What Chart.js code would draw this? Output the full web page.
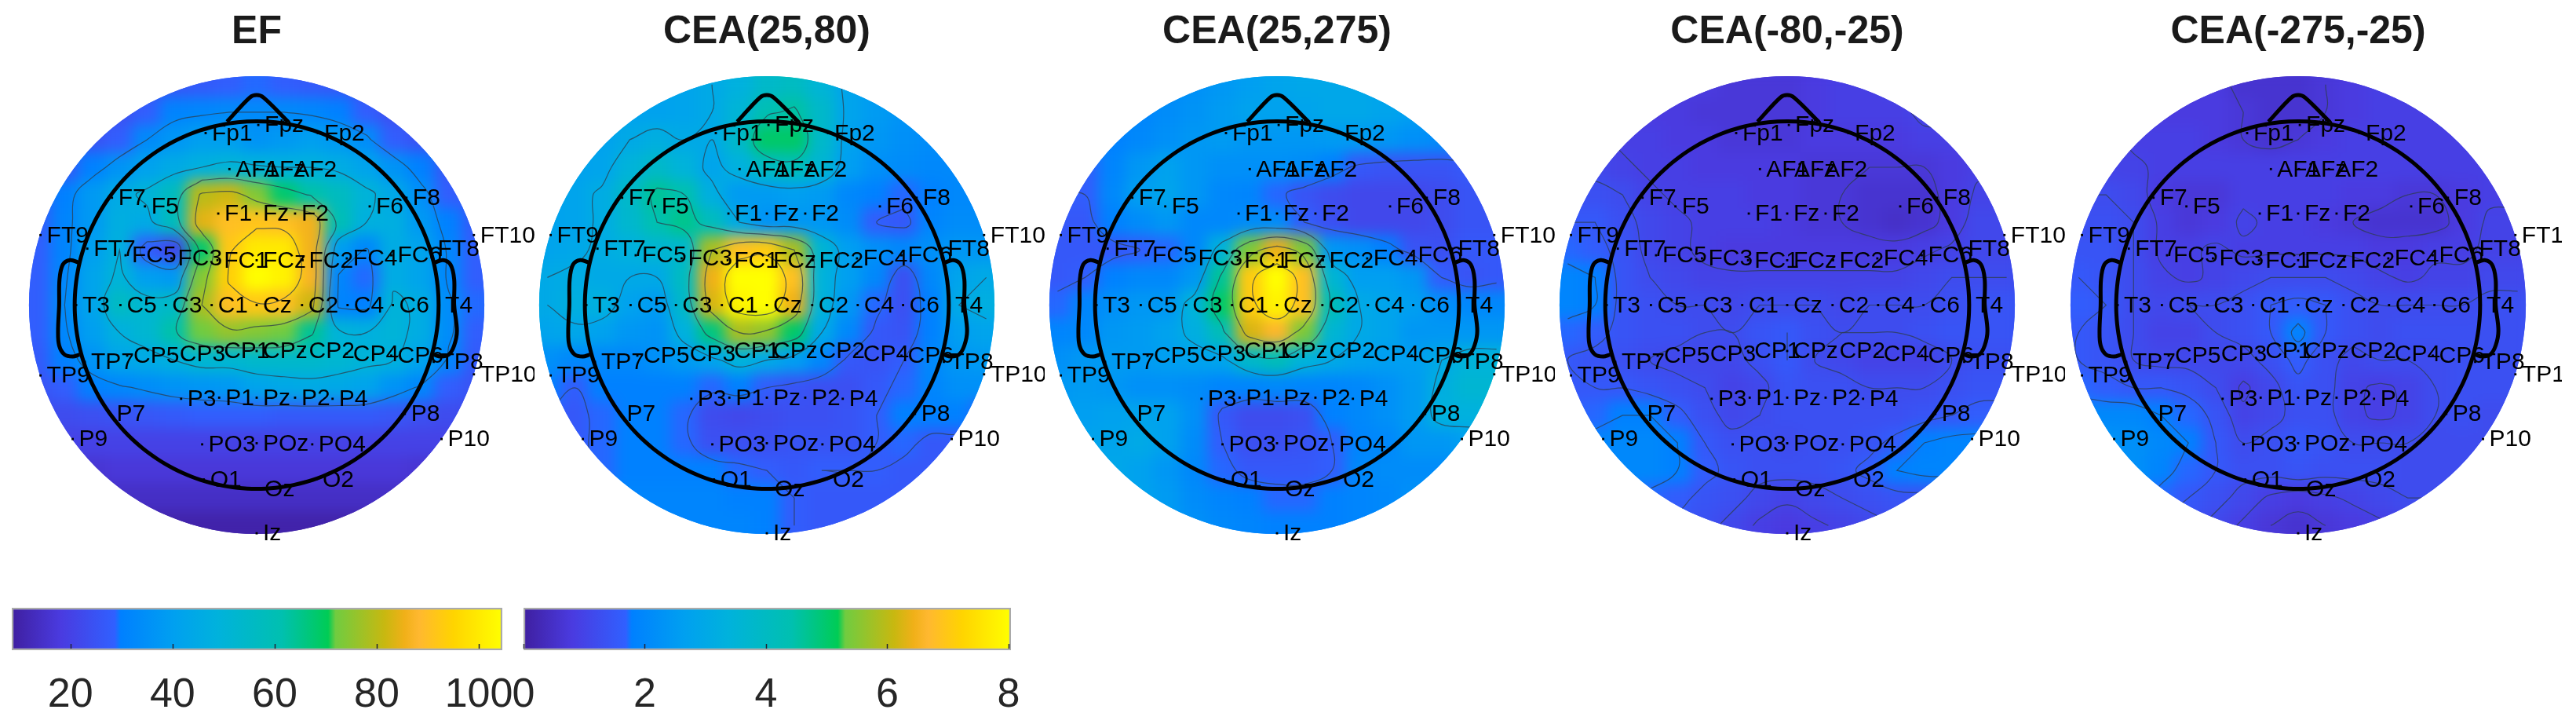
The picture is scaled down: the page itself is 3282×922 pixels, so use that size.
<!DOCTYPE html>
<html><head><meta charset="utf-8">
<script src="https://cdn.jsdelivr.net/npm/chart.js@4"></script>
<style>
html,body{margin:0;padding:0;background:#fff;width:3282px;height:922px;overflow:hidden}
.w{position:absolute;overflow:hidden;filter:blur(0.7px)}
canvas{display:block}
</style></head><body>
<script>
const panelTitles=['EF','CEA(25,80)','CEA(25,275)','CEA(-80,-25)','CEA(-275,-25)'];
const electrodeNames=['Fp1','Fpz','Fp2','AF1','AFz','AF2','F7','F5','F1','Fz','F2','F6','F8','FT9','FT7','FC5','FC3','FC1','FCz','FC2','FC4','FC6','FT8','FT10','T3','C5','C3','C1','Cz','C2','C4','C6','T4','TP7','CP5','CP3','CP1','CPz','CP2','CP4','CP6','TP8','TP9','TP10','P7','P3','P1','Pz','P2','P4','P8','P9','P10','PO3','POz','PO4','O1','Oz','O2','Iz'];
const electrodeX=[-27.9,.9,33.5,-14.9,.4,16.8,-79.1,-61.1,-21,0,21,61.8,81.9,-118.2,-92.6,-71.7,-46.6,-21.4,0,25.1,49.3,73.6,95.5,118.8,-98.7,-74.5,-49.7,-24.6,0,24.8,49.7,74.5,99.6,-94,-70.8,-45.6,-21.4,0,25.1,49.3,73.6,96.8,-118.2,118.8,-80,-41.3,-20.5,0,21,41.5,81,-100.6,101.1,-29.8,0,30.4,-28.9,.9,32.6,0];
const electrodeY=[93.6,98,93.6,74,74,74,58.4,53.7,49.8,49.8,49.8,53.7,58.4,38.1,30.7,27.1,25.4,24.4,24.4,24.4,25.4,27.1,30.7,38.1,0,0,0,0,0,0,0,0,0,-30.9,-27.5,-26.4,-25,-25,-25,-26.4,-27.5,-30.9,-38.3,-37.7,-59.2,-51,-50.4,-50.4,-50.4,-51,-59.2,-72.9,-72.9,-75.8,-75.2,-75.8,-94.9,-100.2,-94.9,-124.2];
const noseX=[-16.2,-3.7,0,3.7,17.2],noseY=[99.8,113,114.3,113,99.8];
const earLX=[-97,-102,-106,-107.8,-108,-108.6,-108,-105,-100.6,-96.8],earLY=[23,24.5,22,14,0,-14,-22,-27,-28,-27];
const earRX=[97,102,106,108,108,109.5,108,105,100.6,96.8],earRY=[23,24.5,22,14,0,-14,-22,-27,-28,-27];
const gridX=[-120,-105,-90,-75,-60,-45,-30,-15,0,15,30,45,60,75,90,105,120];
const gridY=[120,105,90,75,60,45,30,15,0,-15,-30,-45,-60,-75,-90,-105,-120];
const gridEF=[
[22,22,22,22,24,26,27,28,29,28,27,26,24,22,22,22,22],
[24,24,24,24,28,31,32,33,33,33,32,30,28,24,24,24,24],
[24,24,25,28,33,37,40,40,36,38,40,38,34,28,25,24,24],
[25,26,30,36,41,45,48,50,49,48,48,46,42,36,30,26,25],
[26,30,38,45,50,57,80,82,74,68,62,57,50,44,35,28,26],
[27,31,38,47,45,58,84,90,91,90,86,60,48,47,38,30,27],
[28,31,40,48,28,22,68,92,100,100,86,40,32,46,42,32,28],
[28,32,42,50,40,38,74,94,105,102,87,32,29,46,42,32,28],
[28,33,42,56,52,55,78,90,92,90,82,31,30,50,46,34,29],
[28,32,40,48,52,62,72,76,74,72,64,50,48,50,46,34,28],
[27,30,36,43,45,48,52,52,54,54,54,52,50,48,42,32,27],
[25,28,30,32,34,36,37,38,42,44,45,44,42,36,32,28,25],
[22,23,24,25,26,27,28,28,28,27,27,27,27,26,24,23,22],
[19,20,20,20,20,20,20,20,20,20,20,20,20,20,20,20,19],
[15,15,16,17,17,17,17,17,17,17,17,17,17,17,16,15,15],
[13,13,13,14,14,14,14,14,14,14,14,14,14,14,13,13,13],
[10,10,10,10,10,10,10,10,10,10,10,10,10,10,10,10,10]];
const gridCEA_25_80=[
[27,27,27,27,27,28,30,33,38,40,35,28,25,24,23,23,23],
[27,27,27,27,27,28,30,35,43,45,38,28,25,23,22,22,22],
[27,27,27,30,32,30,30,38,50,50,38,27,24,22,21,21,21],
[27,27,28,34,38,34,28,33,40,42,36,26,22,21,20,20,20],
[27,28,31,38,46,44,32,25,25,26,25,20,18,17,18,20,20],
[27,28,31,37,44,47,41,30,23,24,24,21,16,15,19,21,21],
[28,29,31,33,36,37,58,68,70,58,36,26,22,20,22,24,24],
[30,31,30,30,30,40,64,80,80,68,34,26,20,13,20,28,30],
[30,32,33,27,25,38,62,78,80,64,34,24,17,13,18,30,32],
[28,29,27,24,23,33,48,58,56,50,30,20,15,14,18,26,28],
[22,20,20,20,22,25,28,34,30,26,20,15,14,16,20,24,25],
[18,16,18,18,18,18,17,18,16,14,13,13,15,17,19,22,22],
[16,15,17,18,18,17,12,11,12,13,13,14,16,18,18,18,16],
[15,15,17,18,18,17,13,13,13,14,14,14,16,17,15,15,14],
[15,15,17,18,18,18,18,17,16,15,16,16,16,15,15,14,14],
[17,17,18,19,19,19,19,18,18,16,15,15,15,15,14,14,14],
[18,18,19,19,19,19,19,19,18,16,15,15,15,14,14,14,14]];
const gridCEA_25_275=[
[18,18,18,18,20,22,24,26,28,29,29,29,28,26,24,24,24],
[18,18,18,19,21,23,25,27,27,28,29,29,28,26,24,23,23],
[17,17,18,20,22,24,25,24,24,24,25,25,24,22,21,20,20],
[16,16,19,24,27,24,22,22,22,21,18,15,14,14,14,15,15],
[16,16,20,26,28,24,20,19,17,14,12,11,11,11,12,14,14],
[15,15,18,21,24,20,20,21,21,16,13,11,11,11,12,14,14],
[15,15,15,16,17,20,34,54,64,54,24,22,18,14,13,15,15],
[15,16,18,20,20,24,46,70,80,68,36,26,26,24,16,14,15],
[17,19,22,24,24,34,50,70,78,68,42,30,28,26,22,20,20],
[19,20,24,25,27,32,42,62,66,54,36,30,28,24,24,24,24],
[22,24,25,25,26,27,28,38,42,34,30,27,26,26,30,34,34],
[24,25,24,22,22,21,19,19,20,19,19,20,22,25,32,36,36],
[26,26,27,28,27,22,15,12,12,13,18,20,22,25,33,33,34],
[28,28,28,30,27,21,16,13,13,14,16,19,20,24,24,26,26],
[30,30,29,27,24,20,17,15,15,15,16,20,21,21,21,22,22],
[28,28,28,27,25,21,19,18,17,17,18,19,20,22,22,22,22],
[27,27,27,26,25,22,20,19,18,18,18,19,20,20,20,20,20]];
const gridCEA_m80_m25=[
[9,9,9,8,8,8,7,7,7,8,9,9,10,10,10,10,10],
[9,9,9,8,8,7,7,7,7,8,9,9,9,10,10,10,10],
[10,10,9,9,8,8,7,7,7,8,8,8,8,9,9,9,9],
[11,11,10,9,9,8,8,8,8,7,7,7,7,7,8,9,9],
[13,13,12,10,9,9,9,8,8,7,7,6,6,6,8,10,10],
[15,15,13,11,10,9,9,9,8,7,7,6,5,6,8,11,11],
[17,16,14,11,10,9,8,8,8,8,8,8,8,9,10,11,11],
[19,18,14,12,11,10,10,10,10,10,10,10,10,11,12,12,12],
[19,18,14,13,12,12,11,12,12,12,11,12,12,12,13,14,14],
[17,16,14,13,13,12,12,14,15,13,12,12,12,13,14,14,14],
[15,14,13,12,11,11,11,13,15,12,11,10,10,10,12,13,13],
[15,15,15,14,13,12,10,11,14,13,13,12,12,12,13,14,14],
[16,17,18,18,16,13,11,12,13,13,13,13,13,14,15,16,16],
[18,19,20,20,18,15,13,13,12,13,13,14,16,18,19,19,19],
[18,19,20,20,18,16,14,13,13,13,14,16,18,19,19,17,17],
[17,18,18,17,16,14,13,11,10,11,12,13,14,14,14,14,14],
[14,14,14,14,14,13,11,9,8,9,10,11,12,12,12,12,12]];
const gridCEA_m275_m25=[
[9,9,9,8,8,8,6,6,6,7,8,9,9,9,9,9,9],
[9,9,9,8,8,8,7,6,6,7,8,9,9,9,9,9,9],
[10,10,9,9,9,8,7,6,7,8,9,9,9,9,9,9,9],
[10,10,10,9,9,9,9,9,9,9,9,9,9,9,9,9,9],
[12,12,11,8,7,7,9,9,9,9,8,8,7,7,8,9,9],
[13,13,12,9,7,8,10,9,9,8,7,6,6,6,8,10,10],
[14,14,12,9,9,10,9,9,9,9,9,8,8,9,9,10,10],
[15,14,12,10,9,10,11,12,12,12,11,10,9,10,10,11,11],
[16,15,12,11,12,12,13,15,16,15,13,12,12,12,12,13,13],
[15,14,12,10,10,12,13,15,19,15,13,12,13,13,13,13,13],
[15,14,12,11,11,11,11,13,16,13,11,12,12,12,13,13,13],
[17,16,15,15,14,12,9,11,14,13,10,9,10,12,13,13,13],
[20,20,20,18,17,14,10,11,13,13,10,9,10,12,13,12,12],
[23,23,22,20,18,15,12,13,15,14,12,12,12,12,12,12,12],
[23,23,22,19,17,15,13,13,14,13,13,13,12,12,12,12,12],
[20,20,19,17,15,13,11,9,8,9,10,11,12,12,12,12,12],
[16,16,15,14,13,11,9,7,6,7,8,9,10,11,11,11,11]];
const panelGrids=[gridEF,gridCEA_25_80,gridCEA_25_275,gridCEA_m80_m25,gridCEA_m275_m25];
const panelUnits=[1,.1,.1,.1,.1];
const panelLevels=[[33,48,63,78,93],[1.6,3,4.4,5.8,7.2],[1.6,3,4.4,5.8,7.2],[.7,.95,1.2,1.5,1.8],[.7,.95,1.2,1.5,1.8]];
const panelRanges=[[8.5,104.6],[0,8],[0,8],[0,8],[0,8]];
const colorbarTicks=[[20,40,60,80,100],[0,2,4,6,8]];
const colorbarRanges=[[8.5,104.6],[0,8.04]];
const cmapStops=[[0,'#3f1fa0'],[.1,'#4a3be0'],[.21,'#3060ff'],[.222,'#0080ff'],[.33,'#00a0f0'],[.42,'#00b2dc'],[.55,'#00c0b0'],[.645,'#00cc55'],[.66,'#70cc40'],[.76,'#c8b810'],[.8,'#f0b018'],[.83,'#ffb830'],[.9,'#ffd400'],[1,'#ffff00']];
const hex=s=>[1,3,5].map(i=>parseInt(s.substr(i,2),16));
function cmap(t){t=Math.max(0,Math.min(1,t));
 for(let i=1;i<cmapStops.length;i++){const[a,ca]=cmapStops[i-1],[b,cb]=cmapStops[i];
  if(t<=b){const f=(t-a)/(b-a),A=hex(ca),B=hex(cb);return`rgb(${A.map((v,k)=>Math.round(v+(B[k]-v)*f)).join(',')})`;}}
 return '#ffff00';}
const toXY=(xs,ys)=>xs.map((x,i)=>({x,y:ys[i]}));
function contours(g,level){
 const segs=[];
 for(let r=0;r<g.length-1;r++)for(let c=0;c<g[r].length-1;c++){
  const P=[[gridX[c],gridY[r],g[r][c]],[gridX[c+1],gridY[r],g[r][c+1]],[gridX[c+1],gridY[r+1],g[r+1][c+1]],[gridX[c],gridY[r+1],g[r+1][c]]];
  const pts=[];
  for(let e=0;e<4;e++){const a=P[e],b=P[(e+1)%4];
   if((a[2]<level)!==(b[2]<level)){const f=(level-a[2])/(b[2]-a[2]);pts.push([+(a[0]+(b[0]-a[0])*f).toFixed(3),+(a[1]+(b[1]-a[1])*f).toFixed(3)]);}}
  if(pts.length===2)segs.push([pts[0],pts[1]]);
  if(pts.length===4){segs.push([pts[0],pts[1]]);segs.push([pts[2],pts[3]]);}
 }
 const key=p=>p[0]+'_'+p[1],used=new Array(segs.length).fill(false),map={};
 segs.forEach((s,i)=>s.forEach(p=>{(map[key(p)]=map[key(p)]||[]).push(i);}));
 const lines=[];
 const walk=(line,end)=>{for(;;){const n=(map[key(end)]||[]).find(i=>!used[i]);if(n===undefined)return;used[n]=true;const s=segs[n];end=key(s[0])===key(end)?s[1]:s[0];line.push(end);}};
 segs.forEach((s,i)=>{if(used[i])return;used[i]=true;const fw=[s[0],s[1]];walk(fw,s[1]);const bw=[];walk(bw,s[0]);lines.push(bw.reverse().concat(fw));});
 return lines;
}
const circleX=[],circleY=[];
for(let a=0;a<=120;a++){circleX.push(99.5*Math.cos(a/120*2*Math.PI));circleY.push(100*Math.sin(a/120*2*Math.PI));}
const DISC_RX=124.5,DISC_RY=124.6;
const discPlugin={id:'disc',
 beforeDatasetDraw(ch,args){if(ch.data.datasets[args.index].isContour){const c=ch.ctx,X=ch.scales.x,Y=ch.scales.y;c.save();c.beginPath();c.ellipse(X.getPixelForValue(0),Y.getPixelForValue(0),X.getPixelForValue(DISC_RX)-X.getPixelForValue(0),Y.getPixelForValue(0)-Y.getPixelForValue(DISC_RY),0,0,7);c.clip();}},
 afterDatasetDraw(ch,args){const ds=ch.data.datasets[args.index];
  if(ds.isContour){ch.ctx.restore();return;}
  if(!ds.isHeat)return;
  const c=ch.ctx,X=ch.scales.x,Y=ch.scales.y,a=ch.chartArea;
  const o=document.createElement('canvas');o.width=ch.canvas.width;o.height=ch.canvas.height;o.getContext('2d').drawImage(ch.canvas,0,0);
  c.save();c.clearRect(a.left,a.top,a.right-a.left,a.bottom-a.top);c.beginPath();
  c.ellipse(X.getPixelForValue(0),Y.getPixelForValue(0),X.getPixelForValue(DISC_RX)-X.getPixelForValue(0),Y.getPixelForValue(0)-Y.getPixelForValue(DISC_RY),0,0,7);c.clip();
  c.drawImage(o,0,0);c.filter='blur(9px)';c.drawImage(o,0,0);c.restore();},
 afterDatasetsDraw(ch){const c=ch.ctx,X=ch.scales.x,Y=ch.scales.y;c.save();c.fillStyle='#000';c.font='30px "Liberation Sans"';c.textBaseline='middle';c.textAlign='left';
  electrodeNames.forEach((n,i)=>{c.fillText(n,X.getPixelForValue(electrodeX[i])+8,Y.getPixelForValue(electrodeY[i])+1);});c.restore();}
};
const centers=[327,977,1627,2277,2928];
panelTitles.forEach((title,p)=>{
 const W=708,H=700,cx=centers[p];
 const wrap=document.createElement('div');wrap.className='w';
 wrap.style.cssText=`left:${cx-354}px;top:0;width:${p===4?690:W}px;height:${H}px`;
 const cv=document.createElement('canvas');cv.width=W;cv.height=H;wrap.appendChild(cv);document.body.appendChild(wrap);
 const g=panelGrids[p],u=panelUnits[p],[lo,hi]=panelRanges[p];
 const heat=[],cols=[];
 g.forEach((row,r)=>row.forEach((v,c)=>{heat.push({x:gridX[c],y:gridY[r]});cols.push(cmap((v*u-lo)/(hi-lo)));}));
 const datasets=[];
 const line=(xs,ys)=>({data:toXY(xs,ys),showLine:true,pointRadius:0,borderColor:'#000',borderWidth:5,tension:.35,fill:false,order:1});
 datasets.push({data:toXY(electrodeX,electrodeY),pointRadius:2,pointStyle:'rect',pointBackgroundColor:'#000',pointBorderWidth:0,order:0});
 datasets.push(line(circleX,circleY),line(noseX,noseY),line(earLX,earLY),line(earRX,earRY));
 panelLevels[p].forEach(l=>contours(g,l/u).forEach(ln=>{
  datasets.push({data:ln.map(q=>({x:q[0],y:q[1]})),showLine:true,pointRadius:0,borderColor:'rgba(45,60,75,.75)',borderWidth:1.2,tension:.4,fill:false,order:2,isContour:true});}));
 datasets.push({data:heat,pointStyle:'rect',pointRadius:26,pointBorderWidth:0,pointBackgroundColor:cols,order:9,isHeat:true});
 new Chart(cv,{type:'scatter',data:{datasets},plugins:[discPlugin],options:{responsive:false,animation:false,events:[],
  layout:{padding:0,autoPadding:false},
  plugins:{legend:{display:false},tooltip:{enabled:false},
   title:{display:true,text:title,color:'#1a1a1a',font:{family:'Liberation Sans',size:50,weight:'bold'},padding:{top:11,bottom:14}}},
  scales:{x:{type:'linear',display:false,min:-151.93,max:151.93},y:{type:'linear',display:false,min:-133.12,max:129.7}}}});
});
const barPos=[[15,625],[667,621]];
const tickPlugin={id:'cbTicks',afterDatasetsDraw(ch){const c=ch.ctx,X=ch.scales.x,a=ch.chartArea,b=a.bottom;c.save();c.strokeStyle='#223';c.lineWidth=1.5;
 ch.options.cbTicks.forEach(v=>{const px=Math.round(X.getPixelForValue(v))+.5;c.beginPath();c.moveTo(px,b-2);c.lineTo(px,b-8);c.stroke();});
 c.restore();}};
colorbarTicks.forEach((ticks,k)=>{
 const pad=60,[l,w]=barPos[k];
 const wrap=document.createElement('div');wrap.className='w';
 wrap.style.cssText=`left:${l-pad}px;top:772px;width:${w+2*pad}px;height:137px`;
 const cv=document.createElement('canvas');cv.width=w+2*pad;cv.height=137;wrap.appendChild(cv);document.body.appendChild(wrap);
 new Chart(cv,{type:'bar',data:{labels:['colour'],datasets:[{data:[colorbarRanges[k]],barPercentage:1,categoryPercentage:1,borderColor:'#aaa',borderWidth:2.5,borderSkipped:false,
   backgroundColor(ctx){const a=ctx.chart.chartArea;if(!a)return'#000';const gr=ctx.chart.ctx.createLinearGradient(a.left,0,a.right,0);cmapStops.forEach(s=>gr.addColorStop(s[0],s[1]));return gr;}}]},
  plugins:[tickPlugin],
  options:{cbTicks:ticks,indexAxis:'y',responsive:false,animation:false,events:[],layout:{padding:{left:pad,right:pad,top:2,bottom:0}},
  plugins:{legend:{display:false},tooltip:{enabled:false}},
  scales:{y:{display:false},
   x:{type:'linear',min:colorbarRanges[k][0],max:colorbarRanges[k][1],grid:{display:false},border:{display:false},
    afterBuildTicks(s){s.ticks=ticks.map(v=>({value:v}));},afterFit(s){s.height=81;},
    ticks:{autoSkip:false,maxRotation:0,padding:18,color:'#262626',font:{family:'Liberation Sans',size:52}}}}}});
});
</script></body></html>
